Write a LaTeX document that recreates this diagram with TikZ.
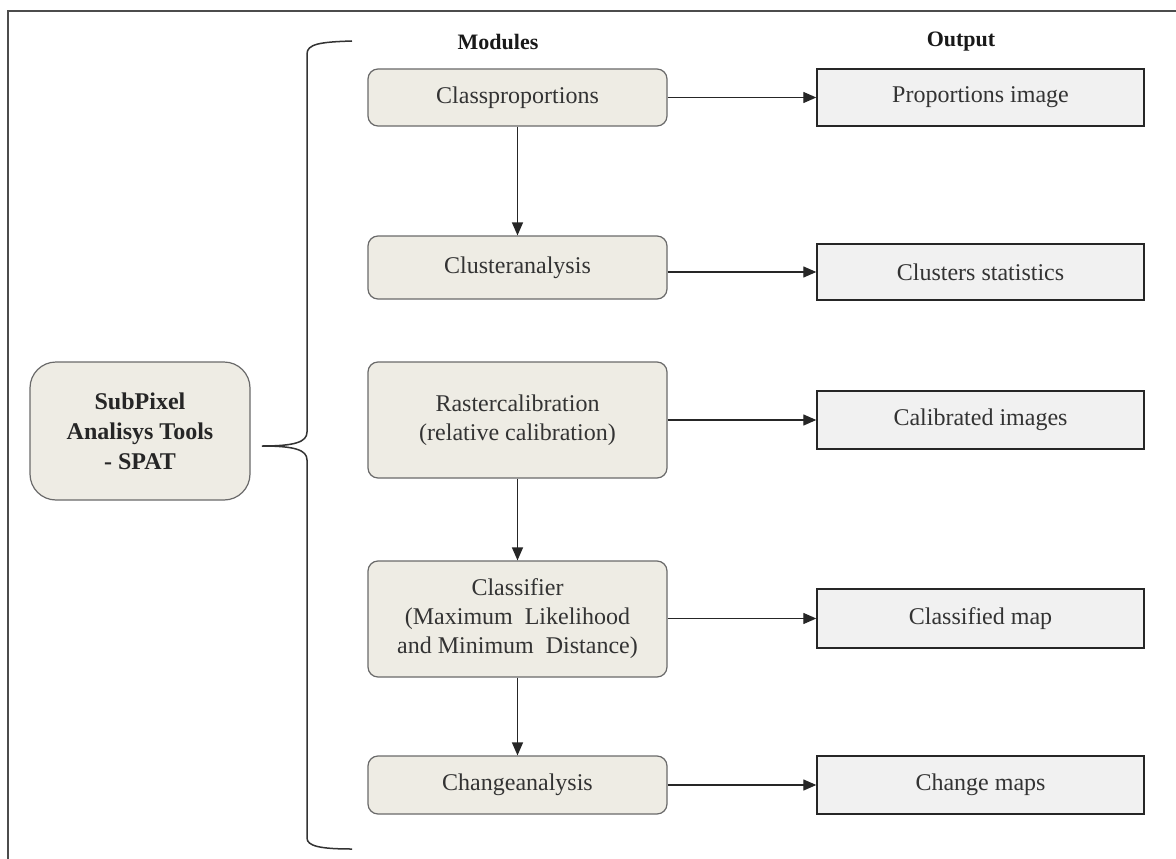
\documentclass[tikz,border=0pt]{standalone}
\usepackage{fontspec}
\setmainfont{Liberation Serif}
\usetikzlibrary{arrows.meta}
\definecolor{modfill}{HTML}{EEECE4}
\definecolor{outfill}{HTML}{F1F1F1}
\definecolor{modline}{HTML}{6A6A6A}
\definecolor{txt}{HTML}{333333}
\begin{document}
\begin{tikzpicture}[x=1pt,y=-1pt,
  modbox/.style={draw=modline,line width=1.2pt,fill=modfill,rounded corners=10pt,
    minimum width=299pt,align=center,inner sep=0pt,font=\fontsize{24}{29}\selectfont,text=txt},
  outbox/.style={draw=black!85,line width=1.4pt,fill=outfill,minimum width=327pt,
    inner sep=0pt,font=\fontsize{24}{29}\selectfont,text=txt},
  spatbox/.style={draw=modline,line width=1.2pt,fill=modfill,rounded corners=26pt,
    minimum width=220pt,minimum height=138pt,align=center,inner sep=0pt,
    font=\fontsize{24}{30}\selectfont\bfseries,text=black!85},
  head/.style={font=\fontsize{22}{26}\selectfont\bfseries,text=black!90},
  arr/.style={draw=black!85,line width=1.3pt,-{Triangle[length=13pt,width=11pt]}},
  brace/.style={draw=black!80,line width=1.5pt}]
\useasboundingbox (0,0) rectangle (1176,859);
\fill[white] (0,0) rectangle (1176,859);
\draw[black!70,line width=1.5pt] (1176,11) -- (8,11) -- (8,859);

\node[head] (hmod) at (498,42) {Modules};
\node[head] (hout) at (961,42) {Output};

\node[spatbox] (spat) at (140,431) {SubPixel\\Analisys Tools\\- SPAT};

\node[modbox,minimum height=57pt] (cp) at (517.5,97.5) {Classproportions};
\node[modbox,minimum height=63pt] (ca) at (517.5,267.5) {Clusteranalysis};
\node[modbox,minimum height=116pt] (rc) at (517.5,420) {Rastercalibration\\(relative calibration)};
\node[modbox,minimum height=116pt] (cl) at (517.5,619) {Classifier\\(Maximum\ \ Likelihood\\and Minimum\ \ Distance)};
\node[modbox,minimum height=58pt] (ch) at (517.5,785) {Changeanalysis};

\node[outbox,minimum height=57pt] (pi) at (980.5,97.5) {Proportions image};
\node[outbox,minimum height=56pt] (cs) at (980.5,272) {Clusters statistics};
\node[outbox,minimum height=58pt] (ci) at (980.5,420) {Calibrated images};
\node[outbox,minimum height=59pt] (cm) at (980.5,618.5) {Classified map};
\node[outbox,minimum height=58pt] (chm) at (980.5,785) {Change maps};

\draw[arr] (cp.east |- pi.west) -- (pi.west);
\draw[arr] (ca.east |- cs.west) -- (cs.west);
\draw[arr] (rc.east |- ci.west) -- (ci.west);
\draw[arr] (cl.east |- cm.west) -- (cm.west);
\draw[arr] (ch.east |- chm.west) -- (chm.west);

\draw[arr] (cp.south) -- (ca.north);
\draw[arr] (rc.south) -- (cl.north);
\draw[arr] (cl.south) -- (ch.north);

\coordinate (btop) at (352,41);
\coordinate (btip) at (262,446);
\coordinate (bbot) at (352,849);
\draw[brace] (btop) .. controls (320,42) and (307,44) .. (307,54)
  -- (307,432) .. controls (307,442) and (295,446) .. (btip)
  .. controls (295,446) and (307,450) .. (307,460)
  -- (307,838) .. controls (307,846) and (320,849) .. (bbot);
\end{tikzpicture}
\end{document}
